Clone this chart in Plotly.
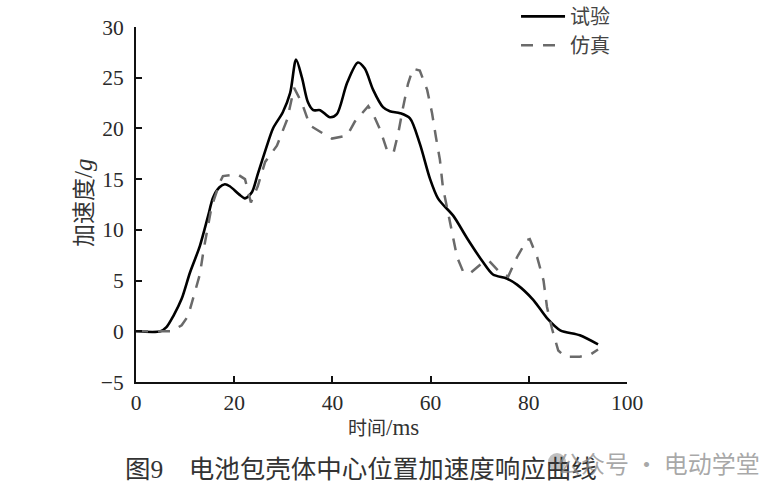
import plotly.graph_objects as go

# 试验 (experiment)
t_exp = [0, 5, 6.2, 7.6, 9.3, 11, 13, 14.7, 15.7, 17, 18.1, 19.1, 21, 22.2, 23.6, 24.8,
         26.6, 27.9, 29.9, 31.4, 32.6, 33.8, 35, 36.1, 37.5, 39.5, 40.9, 43, 45.2, 46.6,
         48.3, 50.3, 51.7, 53.8, 55.8, 57.8, 59.9, 61.5, 62.5, 64.6, 67.4, 70.7, 72.7,
         75.5, 77.6, 80.9, 83.7, 86.4, 90.4, 94.1]
a_exp = [0, 0, 0.4, 1.5, 3.2, 5.8, 8.4, 11.4, 13.2, 14.2, 14.5, 14.3, 13.5, 13.1, 13.7, 15.5,
         18.2, 20.0, 21.6, 23.5, 26.8, 25.0, 22.6, 21.8, 21.8, 21.1, 21.4, 24.5, 26.5, 25.9,
         23.8, 22.1, 21.7, 21.5, 21.0, 18.5, 15.0, 13.1, 12.5, 11.4, 9.2, 6.8, 5.6,
         5.2, 4.6, 3.1, 1.3, 0.1, -0.4, -1.3]

# 仿真 (simulation)
t_sim = [0, 7.3, 9.3, 10.6, 11.6, 13, 13.8, 14.7, 15.4, 17.1, 17.7, 20.6, 22.2, 23.4, 24.8,
         26.3, 28.7, 30.8, 32.2, 33.8, 35.4, 38.1, 39.9, 43, 44.6, 47.3, 48.3, 49.7, 51.3,
         52.5, 53.4, 54.4, 55.4, 56.4, 57.8, 59.3, 60.3, 61.1, 61.9, 62.5, 63.5, 64.4, 65.4,
         66.7, 68, 70.7, 72, 74.1, 75.8, 77.6, 79.6, 80.2, 81.7, 83, 83.7, 84.7, 86, 87.4,
         90.4, 92.5, 94.1]
a_sim = [0, 0, 0.6, 1.5, 3.2, 5.6, 8.1, 10.4, 12.3, 14.7, 15.3, 15.5, 15.0, 12.7, 14.3,
         16.7, 18.3, 20.9, 24.0, 22.5, 20.3, 19.5, 19.0, 19.3, 20.7, 22.2, 21.4, 19.9, 17.6,
         17.7, 19.5, 22.1, 24.4, 25.9, 25.7, 23.8, 21.5, 19.1, 16.9, 14.2, 11.9, 9.7, 7.3,
         5.8, 5.7, 6.8, 6.9, 5.8, 5.4, 7.3, 9.0, 9.1, 7.3, 5.0, 2.4, 0.3, -1.9, -2.5,
         -2.5, -2.3, -1.8]

x_ticks = [0, 20, 40, 60, 80, 100]
y_ticks = [-5, 0, 5, 10, 15, 20, 25, 30]
y_labels = ["\u22125", "0", "5", "10", "15", "20", "25", "30"]

SERIF = "Liberation Serif, Noto Sans CJK SC, serif"

fig = go.Figure()
fig.add_trace(go.Scatter(x=t_exp, y=a_exp, mode="lines", name="试验",
                         line=dict(color="#000000", width=2.6, shape="spline", smoothing=0.8)))
fig.add_trace(go.Scatter(x=t_sim, y=a_sim, mode="lines", name="仿真",
                         line=dict(color="#6a6a6a", width=2.5, dash="12px,10px")))

fig.update_layout(
    width=784, height=495,
    margin=dict(l=136, r=157, t=27, b=113, autoexpand=False),
    paper_bgcolor="white", plot_bgcolor="white",
    font=dict(family=SERIF, size=21, color="#2a2a2a"),
    showlegend=True,
    legend=dict(x=0.774, y=1.085, xanchor="left", yanchor="top",
                bgcolor="rgba(0,0,0,0)", font=dict(size=20, color="#444"),
                itemwidth=44, tracegroupgap=0),
    xaxis=dict(range=[0, 100], tickvals=x_ticks, ticktext=[str(v) for v in x_ticks],
               showgrid=False, zeroline=False, showline=True, linecolor="#111", linewidth=2,
               ticks="inside", ticklen=6, tickwidth=1.5, tickcolor="#111",
               tickfont=dict(size=21.5, family=SERIF, color="#2a2a2a")),
    yaxis=dict(range=[-5, 30], tickvals=y_ticks, ticktext=y_labels,
               showgrid=False, zeroline=False, showline=True, linecolor="#111", linewidth=2,
               ticks="inside", ticklen=6, tickwidth=1.5, tickcolor="#111",
               ticklabelstandoff=6,
               tickfont=dict(size=21.5, family=SERIF, color="#2a2a2a")),
    shapes=[
        dict(type="circle", xref="paper", yref="paper",
             x0=(548 - 136) / 491, x1=(566 - 136) / 491,
             y0=(382 - 471) / 355, y1=(382 - 453) / 355,
             fillcolor="rgba(150,150,150,0.6)", line=dict(width=0)),
    ],
    annotations=[
        dict(text="加速度<span style='font-size:25px'>/<i>g</i></span>", xref="paper", yref="paper",
             x=(83 - 136) / 491, y=(382 - 203) / 355,
             xanchor="center", yanchor="middle", textangle=-90, showarrow=False,
             font=dict(size=23, family=SERIF, color="#333")),
        dict(text="时间<span style='font-size:23px'>/ms</span>", xref="paper", yref="paper",
             x=(383 - 136) / 491, y=(382 - 427) / 355,
             xanchor="center", yanchor="middle", showarrow=False,
             font=dict(size=19, family=SERIF, color="#333")),
        dict(text="图9　电池包壳体中心位置加速度响应曲线", xref="paper", yref="paper",
             x=(361 - 136) / 491, y=(382 - 469) / 355,
             xanchor="center", yanchor="middle", showarrow=False,
             font=dict(size=25.5, family=SERIF, color="#333")),
        dict(text="公众号 · 电动学堂", xref="paper", yref="paper",
             x=(762 - 136) / 491, y=(382 - 462) / 355,
             xanchor="right", yanchor="middle", showarrow=False,
             font=dict(size=24, family="Noto Sans CJK SC", color="rgba(140,140,140,0.75)")),
    ],
)

fig.write_html("out.html")
